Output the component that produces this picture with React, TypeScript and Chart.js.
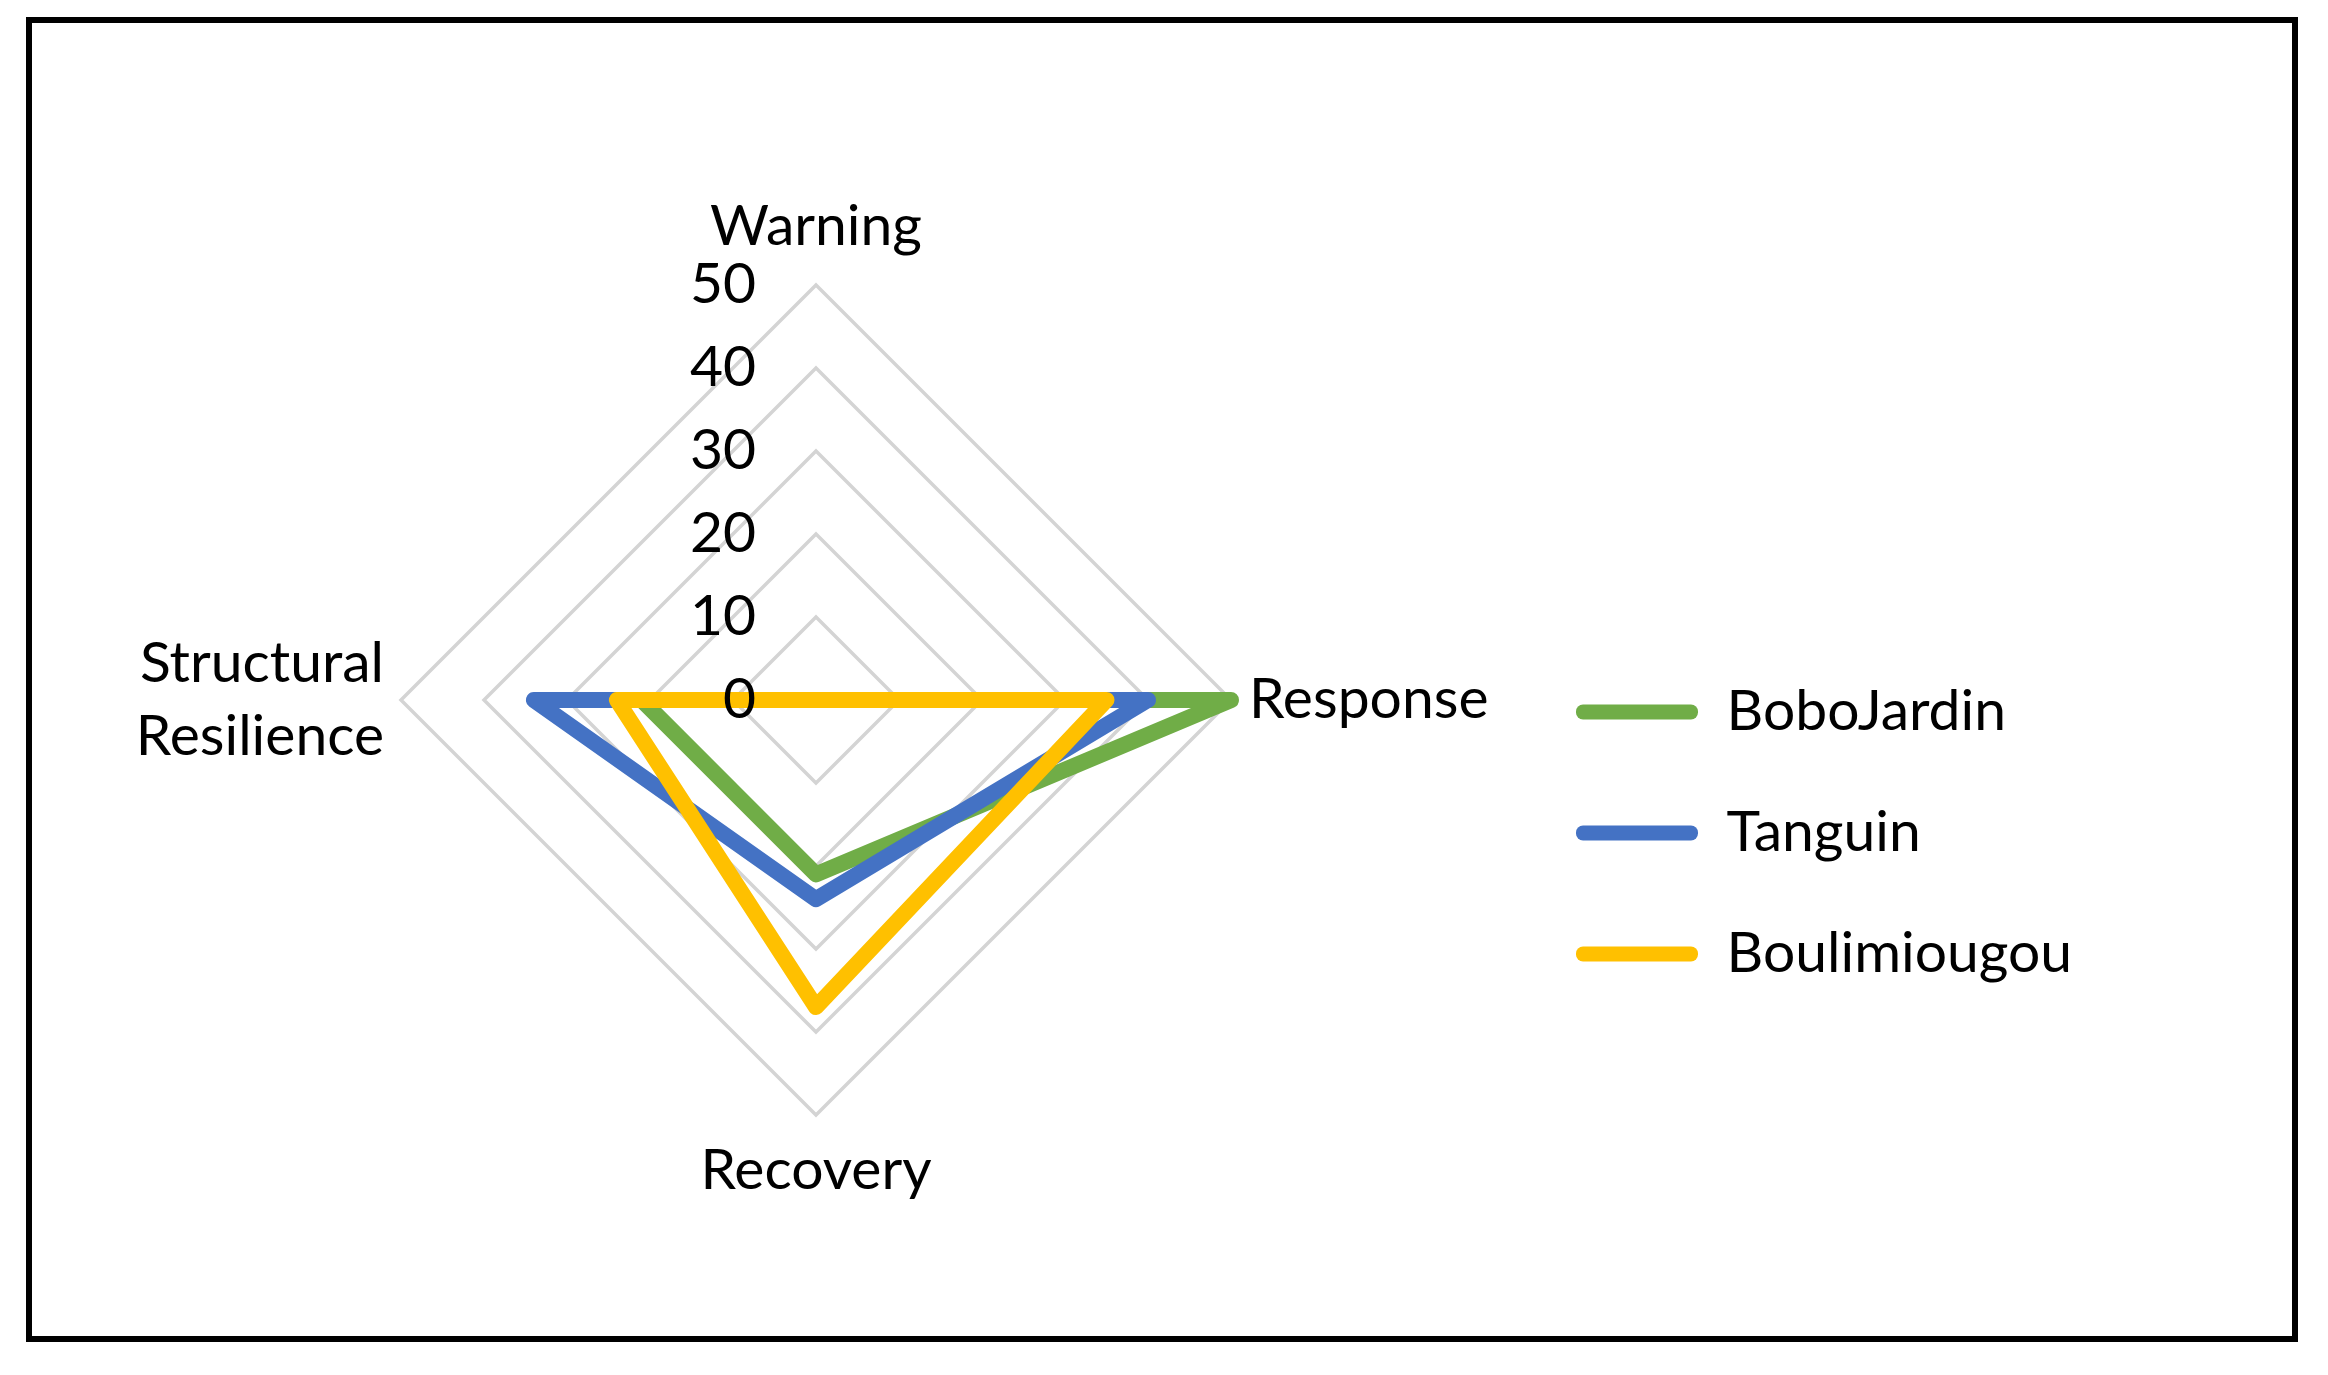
import React, { useEffect, useRef } from 'react';
import { Chart, registerables } from 'chart.js';

Chart.register(...registerables);

// ---- data ----
const categories: (string | string[])[] = ['Warning', 'Response', 'Recovery', ['Structural', 'Resilience']];
const seriesNames = ['BoboJardin', 'Tanguin', 'Boulimiougou'];
const boboJardin = [0, 50, 21, 21];
const tanguin = [0, 40, 24, 34];
const boulimiougou = [0, 35, 37, 24];
const tickLabels = ['0', '10', '20', '30', '40', '50'];
const seriesColors = ['#70ad47', '#4472c4', '#ffc000'];

const FONT = 'Lato, "Open Sans", sans-serif';
// space to the right of the chart area (legend width + right padding)
const LEGEND_SPACE = 816;

const labelPlugin = {
  id: 'customLabels',
  afterDraw(chart: any) {
    const scale = chart.scales.r;
    const ctx = chart.ctx;
    ctx.save();
    ctx.fillStyle = '#000';
    ctx.font = `57px ${FONT}`;
    // tick labels
    ctx.textAlign = 'right';
    ctx.textBaseline = 'middle';
    scale.ticks.forEach((t: any, i: number) => {
      const d = scale.getDistanceFromCenterForValue(t.value);
      ctx.fillText(tickLabels[i] ?? String(t.value), scale.xCenter - 60, scale.yCenter - d);
    });
    // point labels
    const labels = chart.data.labels as (string | string[])[];
    const cfg = [
      { dist: 473, align: 'center' },
      { dist: 433, align: 'left' },
      { dist: 471, align: 'center' },
      { dist: 432, align: 'right' },
    ];
    labels.forEach((lab, i) => {
      const c = cfg[i];
      const p = scale.getPointPosition(i, c.dist);
      ctx.textAlign = c.align;
      const lines = Array.isArray(lab) ? lab : [lab];
      const lh = 73;
      lines.forEach((ln, k) => {
        const y = p.y + (k - (lines.length - 1) / 2) * lh;
        ctx.fillText(ln, p.x, y);
      });
    });
    ctx.restore();
  },
};

export default function App() {
  const ref = useRef<HTMLCanvasElement | null>(null);

  useEffect(() => {
    let chart: Chart | null = null;
    let cancelled = false;
    const build = () => {
      if (cancelled || !ref.current) return;
      const seriesData = [boboJardin, tanguin, boulimiougou];
      const orders = [2, 1, 0];
      chart = new Chart(ref.current, {
        type: 'radar',
        data: {
          labels: categories as any,
          datasets: seriesNames.map((name, i) => ({
            label: name,
            data: seriesData[i],
            borderColor: seriesColors[i],
            backgroundColor: seriesColors[i],
            borderWidth: 16,
            fill: false,
            pointRadius: 0,
            pointHoverRadius: 0,
            borderJoinStyle: 'round',
            borderCapStyle: 'round',
            order: orders[i],
          })) as any,
        },
        options: {
          responsive: false,
          animation: false,
          devicePixelRatio: 1,
          layout: { padding: { left: 120, right: 300, top: 285, bottom: 260 } },
          scales: {
            r: {
              min: 0,
              max: 50,
              ticks: { display: false, stepSize: 10 },
              grid: { color: '#d4d4d4', lineWidth: 3.5 },
              angleLines: { display: false },
              pointLabels: { display: false },
            },
          },
          plugins: {
            tooltip: { enabled: false },
            legend: {
              position: 'right',
              align: 'center',
              maxWidth: 800,
              title: { display: true, text: '', font: { size: 10 }, padding: { top: 254, bottom: 0 } },
              labels: {
                boxWidth: 122,
                boxHeight: 15,
                padding: 64,
                color: '#000',
                font: { family: FONT, size: 57 },
                useBorderRadius: true,
                borderRadius: 7,
                generateLabels: (c: any) =>
                  c.data.datasets.map((ds: any, i: number) => ({
                    text: ds.label,
                    fillStyle: ds.borderColor,
                    strokeStyle: ds.borderColor,
                    lineWidth: 0,
                    hidden: false,
                    datasetIndex: i,
                    borderRadius: 7,
                    fontColor: '#000',
                  })),
              },
            } as any,
          },
        },
        plugins: [labelPlugin as any],
      });
      // second pass: size the right padding so the legend starts where the reference's does
      const lw = (chart as any).legend ? (chart as any).legend.width : 500;
      (chart.options as any).layout.padding.right = Math.max(0, LEGEND_SPACE - lw);
      chart.update();
    };
    const fontsApi = (document as any).fonts;
    if (fontsApi && fontsApi.load) {
      fontsApi.load(`57px Lato`).then(build, build);
    } else {
      build();
    }
    return () => {
      cancelled = true;
      if (chart) chart.destroy();
    };
  }, []);

  return (
    <div style={{ position: 'absolute', left: 0, top: 0, width: 2328, height: 1375, background: '#fff' }}>
      <canvas ref={ref} width={2328} height={1375} style={{ display: 'block', width: 2328, height: 1375 }} />
      <div
        style={{
          position: 'absolute',
          left: 26,
          top: 17,
          width: 2272,
          height: 1325,
          border: '6px solid #000',
          boxSizing: 'border-box',
          pointerEvents: 'none',
        }}
      />
    </div>
  );
}
